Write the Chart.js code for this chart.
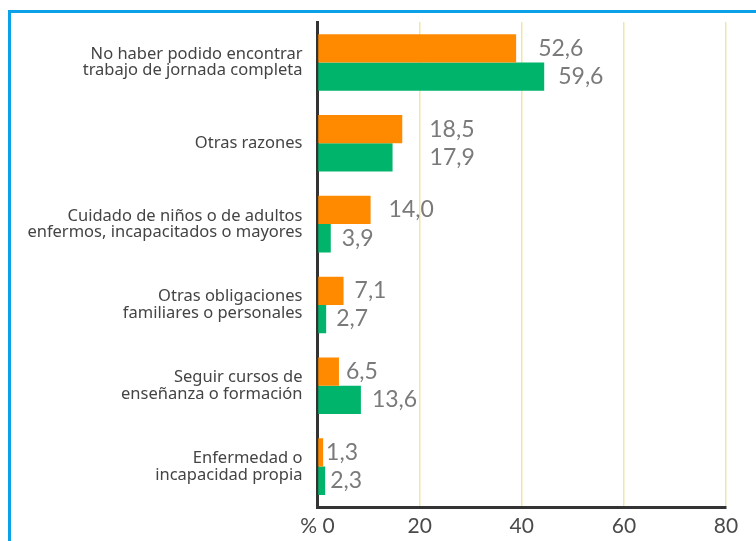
<!DOCTYPE html>
<html>
<head>
<meta charset="utf-8">
<script src="https://cdn.jsdelivr.net/npm/chart.js@4"></script>
<style>
  html, body { margin: 0; padding: 0; background: #fff; }
  #marco {
    position: absolute; left: 8px; top: 10px; width: 760px; height: 540px;
    border-top: 3px solid #0aa1e8; border-left: 3px solid #0aa1e8;
  }
  canvas { position: absolute; left: 0; top: 0; }
</style>
</head>
<body>
<div id="marco"></div>
<canvas id="razones" width="756" height="541"></canvas>
<script>
  // categorias (eje y)
  const razones = [
    ["No haber podido encontrar", "trabajo de jornada completa"],
    "Otras razones",
    ["Cuidado de niños o de adultos", "enfermos, incapacitados o mayores"],
    ["Otras obligaciones", "familiares o personales"],
    ["Seguir cursos de", "enseñanza o formación"],
    ["Enfermedad o", "incapacidad propia"]
  ];

  // largo de las barras tal como se ve en el grafico
  const barraNaranja = [38.9, 16.6, 10.4, 5.1, 4.2, 1.1];
  const barraVerde = [44.4, 14.7, 2.6, 1.7, 8.5, 1.5];

  // valores impresos al lado de cada barra
  const textoNaranja = ["52,6", "18,5", "14,0", "7,1", "6,5", "1,3"];
  const textoVerde = ["59,6", "17,9", "3,9", "2,7", "13,6", "2,3"];

  // separacion (px) entre el final de la barra y su valor
  const sepNaranja = [22, 27, 18, 11, 7, 3];
  const sepVerde = [14, 37, 11, 10, 11, 5];

  const ticksX = [0, 20, 40, 60, 80];

  const valores = {
    id: 'valores',
    afterDatasetsDraw(chart) {
      const ctx = chart.ctx;
      const textos = [textoNaranja, textoVerde];
      const seps = [sepNaranja, sepVerde];
      ctx.save();
      ctx.font = '23px Lato';
      ctx.fillStyle = '#7a7a7a';
      ctx.textBaseline = 'middle';
      ctx.textAlign = 'left';
      chart.data.datasets.forEach((ds, i) => {
        chart.getDatasetMeta(i).data.forEach((bar, j) => {
          ctx.fillText(textos[i][j], bar.x + seps[i][j], bar.y);
        });
      });
      ctx.restore();
    }
  };

  const ctx = document.getElementById('razones').getContext('2d');
  new Chart(ctx, {
    type: 'bar',
    data: {
      labels: razones,
      datasets: [
        { data: barraNaranja, backgroundColor: '#ff8a00', barPercentage: 1, categoryPercentage: 0.7 },
        { data: barraVerde, backgroundColor: '#00b56b', barPercentage: 1, categoryPercentage: 0.7 }
      ]
    },
    options: {
      indexAxis: 'y',
      responsive: false,
      animation: false,
      layout: { padding: { top: 22, right: 30, left: 0, bottom: 0 } },
      plugins: { legend: { display: false }, tooltip: { enabled: false } },
      scales: {
        x: {
          min: 0, max: 80,
          afterBuildTicks: (s) => { s.ticks = ticksX.map(v => ({ value: v })); },
          afterFit: (s) => { s.height = 34; },
          grid: { color: '#efe7a8', lineWidth: 1.5, drawTicks: false },
          border: { display: true, color: '#333', width: 3 },
          ticks: {
            padding: 7,
            color: '#4a4a4a',
            font: { family: 'Lato', size: 21 },
            callback: (v) => v === 0 ? '% 0' : v
          }
        },
        y: {
          afterFit: (s) => { s.width = 317.5; s.paddingTop = 0; s.paddingBottom = 0; },
          grid: { display: false, drawTicks: false },
          border: { display: true, color: '#333', width: 3 },
          ticks: {
            padding: 15,
            color: '#444',
            font: { family: 'Noto Sans', size: 16.5, lineHeight: 1.0 }
          }
        }
      }
    },
    plugins: [valores]
  });
</script>
</body>
</html>
